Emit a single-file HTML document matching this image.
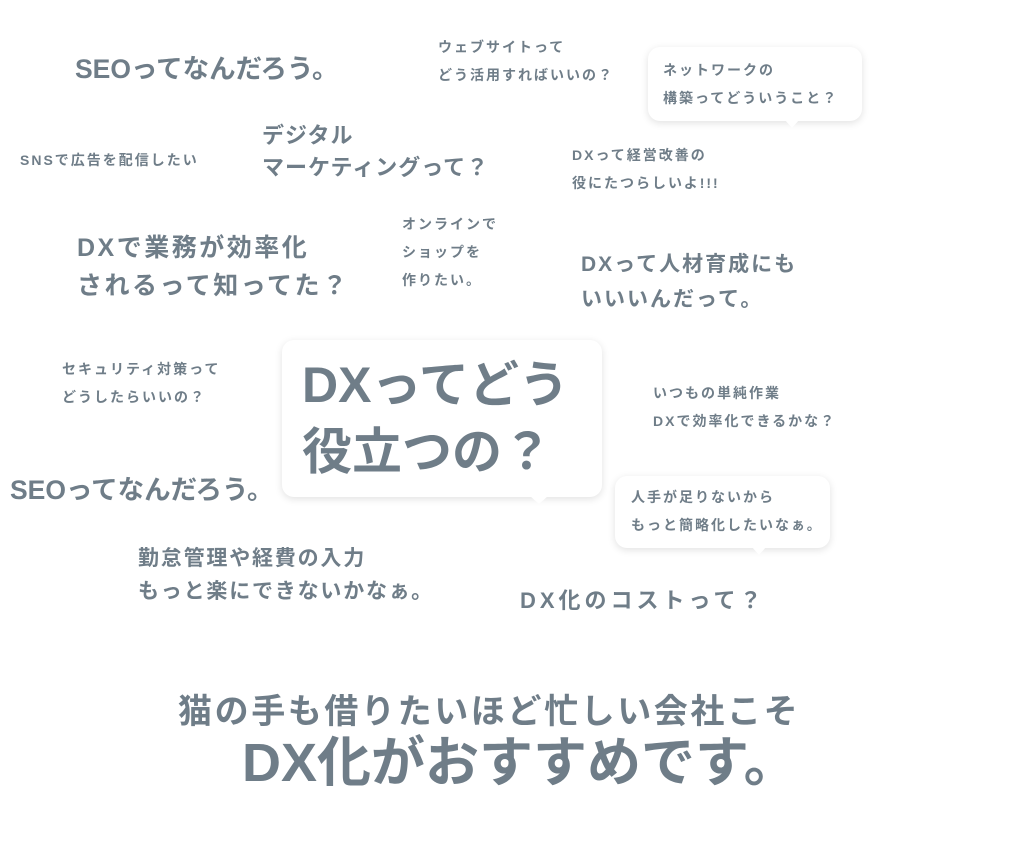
<!DOCTYPE html>
<html><head><meta charset="utf-8"><style>
html,body{margin:0;padding:0;background:#fff;}
body{width:1024px;height:853px;position:relative;overflow:hidden;font-family:"Liberation Sans","Noto Sans CJK JP",sans-serif;font-weight:bold;color:#6f7d88;}
.t{position:absolute;white-space:nowrap;}
.s{font-size:14px;line-height:28px;letter-spacing:2px;}
.b{position:absolute;background:#fff;border-radius:12px;box-shadow:0 2px 8px rgba(0,0,0,0.12);}
.tail{position:absolute;width:0;height:0;border-left:7px solid transparent;border-right:7px solid transparent;border-top:8px solid #fff;}
</style></head><body>
<div class="t" style="left:75px;top:50px;font-size:26.5px;line-height:38px;">SEOってなんだろう。</div>
<div class="t s" style="left:438px;top:33px;">ウェブサイトって<br>どう活用すればいいの？</div>

<div class="b" style="left:648px;top:47px;width:214px;height:74px;"></div>
<div class="tail" style="left:785px;top:120px;"></div>
<div class="t s" style="left:663px;top:56px;">ネットワークの<br>構築ってどういうこと？</div>

<div class="t s" style="left:20px;top:146px;">SNSで広告を配信したい</div>
<div class="t" style="left:262px;top:120px;font-size:22px;line-height:32px;letter-spacing:1px;">デジタル<br>マーケティングって？</div>
<div class="t s" style="left:572px;top:141px;">DXって経営改善の<br>役にたつらしいよ!!!</div>

<div class="t" style="left:77px;top:229px;font-size:25px;line-height:38px;letter-spacing:2.5px;">DXで業務が効率化<br>されるって知ってた？</div>
<div class="t s" style="left:402px;top:210px;">オンラインで<br>ショップを<br>作りたい。</div>
<div class="t" style="left:581px;top:247px;font-size:21px;line-height:35px;letter-spacing:2px;">DXって人材育成にも<br>いいいんだって。</div>

<div class="t s" style="left:62px;top:355px;">セキュリティ対策って<br>どうしたらいいの？</div>

<div class="b" style="left:282px;top:340px;width:320px;height:157px;"></div>
<div class="tail" style="left:530px;top:496px;border-left-width:9px;border-right-width:9px;"></div>
<div class="t" style="left:302px;top:352px;font-size:50px;line-height:67px;">DXってどう<br>役立つの？</div>

<div class="t s" style="left:653px;top:379px;">いつもの単純作業<br>DXで効率化できるかな？</div>
<div class="t" style="left:10px;top:471px;font-size:26.5px;line-height:38px;">SEOってなんだろう。</div>

<div class="b" style="left:615px;top:476px;width:215px;height:72px;"></div>
<div class="tail" style="left:752px;top:547px;"></div>
<div class="t s" style="left:631px;top:483px;">人手が足りないから<br>もっと簡略化したいなぁ。</div>

<div class="t" style="left:138px;top:542px;font-size:21px;line-height:33px;letter-spacing:1.8px;">勤怠管理や経費の入力<br>もっと楽にできないかなぁ。</div>
<div class="t" style="left:520px;top:585px;font-size:22px;line-height:32px;letter-spacing:4px;">DX化のコストって？</div>

<div class="t" style="left:178px;top:690px;font-size:34px;line-height:44px;letter-spacing:2.6px;">猫の手も借りたいほど忙しい会社こそ</div>
<div class="t" style="left:242px;top:730px;font-size:54px;line-height:66px;">DX化がおすすめです。</div>
</body></html>
